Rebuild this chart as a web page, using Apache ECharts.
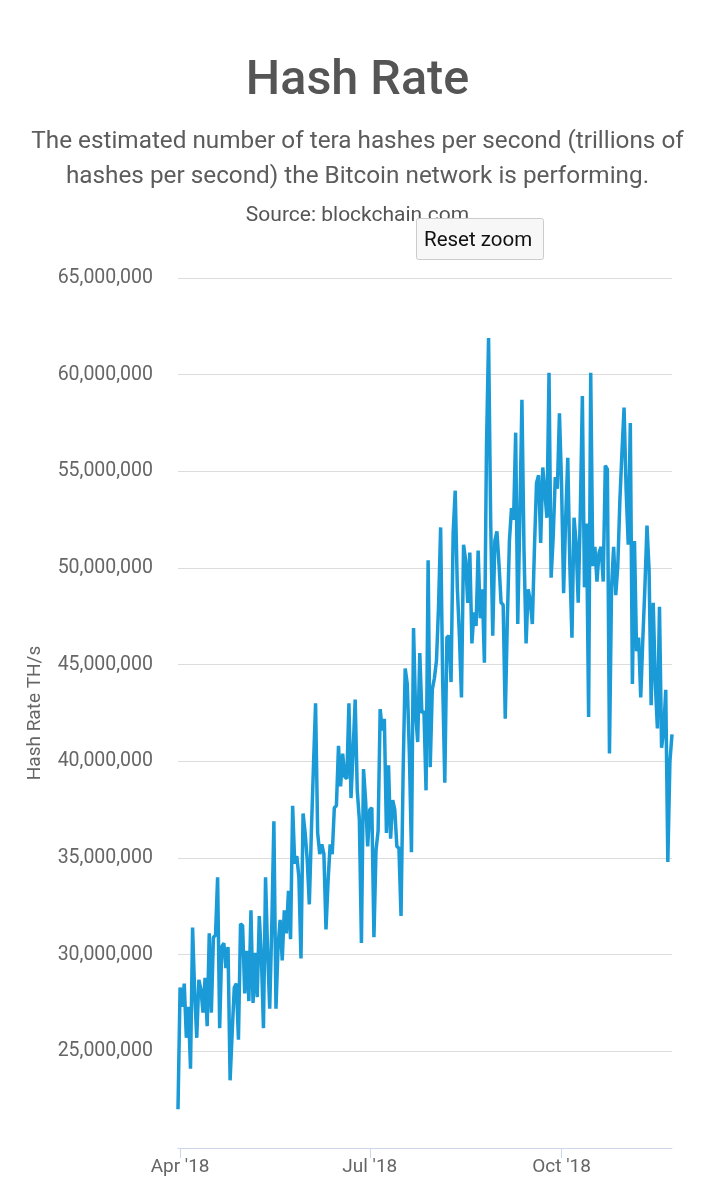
<!DOCTYPE html>
<html><head><meta charset="utf-8">
<script src="https://cdn.jsdelivr.net/npm/echarts@6/dist/echarts.min.js"></script>
<style>html,body{margin:0;padding:0;background:#fff}#c{width:715px;height:1200px}</style>
</head><body><div id="c"></div>
<script>
// Daily hash rate, millions of TH/s, starting 2018-03-31
const startDate = [2018, 2, 31];
const hashRateMillions = [
22.0, 28.3, 27.3, 28.5, 25.7, 27.3, 24.1, 31.4, 28.0, 25.7,
28.7, 28.2, 27.0, 28.8, 26.3, 31.1, 27.0, 30.9, 31.0, 34.0,
26.2, 30.4, 30.6, 29.3, 30.4, 23.5, 26.0, 28.3, 28.5, 25.6,
31.6, 31.5, 28.0, 30.2, 27.6, 32.3, 27.5, 30.1, 27.8, 32.0,
29.9, 26.2, 34.0, 30.1, 27.2, 31.5, 36.9, 27.2, 30.4, 31.8,
29.7, 32.3, 31.1, 33.3, 30.8, 37.7, 34.7, 35.1, 34.0, 29.8,
37.3, 36.3, 34.9, 32.6, 36.4, 39.8, 43.0, 36.3, 35.2, 35.7,
35.2, 31.3, 33.8, 35.7, 35.2, 37.6, 37.7, 40.8, 38.7, 40.4,
39.2, 39.1, 43.0, 38.1, 40.5, 43.2, 38.5, 37.0, 30.6, 39.6,
38.0, 35.6, 37.5, 37.6, 30.9, 35.4, 36.4, 42.7, 41.6, 42.2,
36.3, 39.8, 36.0, 38.0, 37.5, 35.6, 35.5, 32.0, 39.4, 44.8,
44.0, 40.4, 35.3, 46.9, 42.5, 41.0, 45.6, 42.5, 42.6, 38.5,
50.4, 39.7, 43.7, 44.3, 45.2, 48.0, 52.1, 44.0, 38.9, 46.4,
46.5, 44.1, 51.8, 54.0, 49.0, 46.5, 43.3, 51.2, 50.4, 48.2,
50.8, 46.1, 47.7, 47.0, 50.9, 47.4, 48.9, 45.1, 56.3, 61.9,
52.5, 46.5, 51.4, 51.9, 50.2, 48.2, 48.1, 42.2, 47.3, 51.4,
53.1, 52.5, 57.0, 47.1, 52.6, 58.7, 50.9, 46.1, 48.9, 48.3,
47.1, 51.0, 54.4, 54.8, 51.3, 55.2, 53.9, 52.6, 60.1, 49.5,
51.6, 54.7, 54.1, 58.0, 54.4, 48.7, 52.6, 55.7, 50.1, 46.4,
52.6, 51.3, 48.2, 52.8, 58.9, 49.0, 52.3, 42.3, 60.1, 50.1,
51.1, 49.3, 50.8, 51.1, 49.3, 55.3, 55.1, 40.4, 49.0, 51.1,
48.6, 50.1, 53.5, 56.0, 58.3, 54.0, 51.2, 57.5, 44.0, 51.4,
45.7, 46.4, 43.3, 46.3, 49.0, 52.2, 49.9, 42.9, 48.2, 44.0,
41.7, 48.0, 40.7, 41.6, 43.7, 34.8, 40.0, 41.4
];
const tickMonths = [4, 7, 10];
const monthNames = ['Jan','Feb','Mar','Apr','May','Jun','Jul','Aug','Sep','Oct','Nov','Dec'];
const yMin = 20, yMax = 65, yStep = 5;
const subtitleLines = [
  'The estimated number of tera hashes per second (trillions of',
  'hashes per second) the Bitcoin network is performing.'
];

const dates = hashRateMillions.map((_, i) => {
  const d = new Date(Date.UTC(startDate[0], startDate[1], startDate[2] + i));
  return d.getUTCFullYear() + '-' + String(d.getUTCMonth() + 1).padStart(2, '0') + '-' + String(d.getUTCDate()).padStart(2, '0');
});
function isTick(idx) {
  const s = dates[idx];
  const m = +s.slice(5, 7), day = +s.slice(8, 10);
  return day === 1 && tickMonths.indexOf(m) >= 0;
}
const font = 'Roboto, "Noto Sans", sans-serif';
const subStyle = {fontFamily: font, fontSize: 24.3, fontWeight: 'normal', color: '#5c5c5c'};
const chart = echarts.init(document.getElementById('c'), null, {renderer: 'canvas'});
chart.setOption({
  animation: false,
  backgroundColor: '#fff',
  title: [
    {text: 'Hash Rate', left: 'center', top: 52,
     textStyle: {fontFamily: font, fontSize: 48.5, fontWeight: 500, color: '#555'}},
    {text: subtitleLines[0], left: 'center', top: 130, padding: 0, textStyle: subStyle},
    {text: subtitleLines[1], left: 'center', top: 165, padding: 0, textStyle: subStyle},
    {text: 'Source: blockchain.com', left: 'center', top: 200,
     textStyle: {fontFamily: font, fontSize: 21, fontWeight: 'normal', color: '#555'}}
  ],
  graphic: [
    {type: 'rect', left: 416, top: 218, shape: {width: 127, height: 41, r: 2},
     style: {fill: '#f7f7f7', stroke: '#cccccc', lineWidth: 1}, z: 10},
    {type: 'text', left: 424, top: 230, z: 11,
     style: {text: 'Reset zoom', font: '20.5px ' + font, fill: '#111'}}
  ],
  grid: {left: 178, right: 43, top: 278, bottom: 52, containLabel: false},
  xAxis: {
    type: 'category', data: dates, boundaryGap: false,
    axisLine: {lineStyle: {color: '#ccd6eb', width: 1}},
    axisTick: {interval: (i) => isTick(i), length: 10, lineStyle: {color: '#ccd6eb'}},
    axisLabel: {interval: (i) => isTick(i), margin: 10, fontFamily: font, fontSize: 19, color: '#666',
      formatter: (v) => monthNames[+v.slice(5, 7) - 1] + " '" + v.slice(2, 4)},
    splitLine: {show: false}
  },
  yAxis: {
    type: 'value', min: yMin, max: yMax, interval: yStep,
    name: 'Hash Rate TH/s', nameLocation: 'middle', nameGap: 133,
    nameTextStyle: {fontFamily: font, fontSize: 19, color: '#666'},
    axisLine: {show: false}, axisTick: {show: false},
    axisLabel: {showMinLabel: false, margin: 25, fontFamily: font, fontSize: 19.5, color: '#666',
      formatter: (v) => (v * 1e6).toLocaleString('en-US')},
    splitLine: {lineStyle: {color: '#dcdcdc', width: 1}}
  },
  series: [{
    type: 'line', data: hashRateMillions, showSymbol: false, symbol: 'none',
    lineStyle: {color: '#1a9ad6', width: 3.5}, itemStyle: {color: '#1a9ad6'}
  }]
});
</script></body></html>
